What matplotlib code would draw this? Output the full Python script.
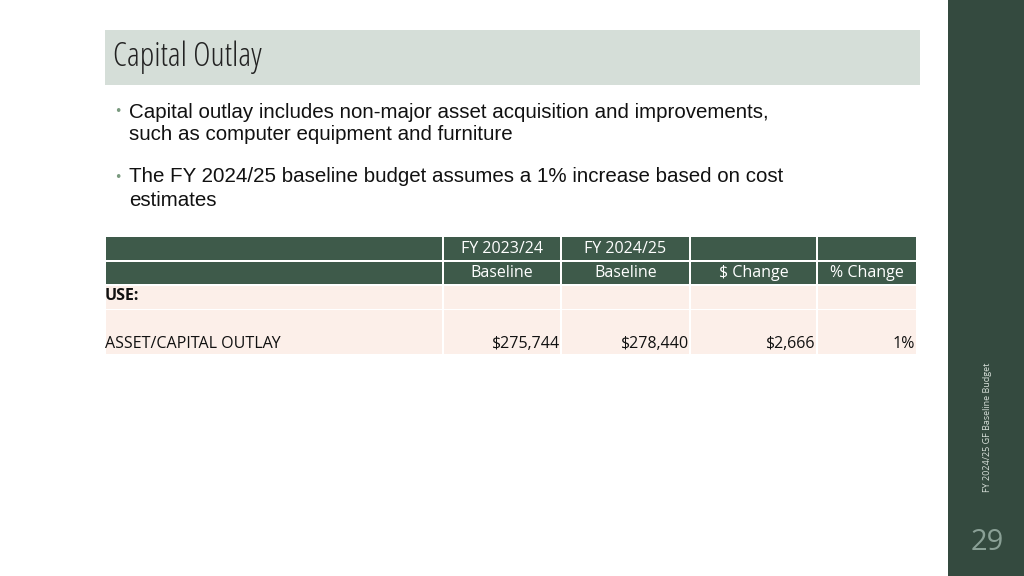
import matplotlib.pyplot as plt
from matplotlib.patches import Rectangle

W, H = 1024, 576

title = "Capital Outlay"
bullets = [
    ["Capital outlay includes non-major asset acquisition and improvements,",
     "such as computer equipment and furniture"],
    ["The FY 2024/25 baseline budget assumes a 1% increase based on cost",
     "estimates"],
]
header_top = ["", "FY 2023/24", "FY 2024/25", "", ""]
header_bot = ["", "Baseline", "Baseline", "$ Change", "% Change"]
row_label = "ASSET/CAPITAL OUTLAY"
row_values = ["$275,744", "$278,440", "$2,666", "1%"]
side_text = "FY 2024/25 GF Baseline Budget"
page_no = "29"

col_edges = [105, 443, 561, 690, 817, 917]
dark = "#3e5a4a"
body = "#fcefe9"

fig = plt.figure(figsize=(W / 100, H / 100), dpi=100)
ax = fig.add_axes([0, 0, 1, 1])
ax.set_xlim(0, W)
ax.set_ylim(H, 0)
ax.axis("off")


def rect(x0, y0, x1, y1, color):
    ax.add_patch(Rectangle((x0, y0), x1 - x0, y1 - y0, facecolor=color, edgecolor="none"))


# sidebar
rect(948, 0, W, H, "#344a3f")
ax.text(987, 427, side_text, rotation=90, ha="center", va="center", fontsize=6.5,
        color="#d8e0da", family="Open Sans")
ax.text(987, 542, page_no, ha="center", va="center", fontsize=21, color="#8aa096",
        family="Open Sans")

# title bar
rect(105, 30, 920, 85, "#d5ded8")
ax.text(113, 57, title, ha="left", va="center", fontsize=24, color="#222222",
        family="Open Sans", fontstretch="condensed")

# bullets
y = 112
for lines in bullets:
    ax.text(114, y, "•", ha="left", va="center", fontsize=9, color="#7a9a7f")
    for ln in lines:
        ax.text(129, y, ln, ha="left", va="center", fontsize=14.8, color="#111111",
                family="Liberation Sans")
        y += 23
    y += 19

# table header
fs = 11.5
for i in range(len(col_edges) - 1):
    x0, x1 = col_edges[i] + 1, col_edges[i + 1] - 1
    rect(x0, 237, x1, 260, dark)
    rect(x0, 262, x1, 284, dark)
    rect(x0, 286, x1, 309, body)
    rect(x0, 310, x1, 354, body)
    xc = (col_edges[i] + col_edges[i + 1]) / 2
    ax.text(xc, 249, header_top[i], ha="center", va="center", fontsize=fs,
            color="white", family="Open Sans")
    ax.text(xc, 273, header_bot[i], ha="center", va="center", fontsize=fs,
            color="white", family="Open Sans")

ax.text(105, 296, "USE:", ha="left", va="center", fontsize=fs, fontweight="bold",
        color="#111111", family="Open Sans")
ax.text(105, 344, row_label, ha="left", va="center", fontsize=fs, color="#111111",
        family="Open Sans")
for i, v in enumerate(row_values):
    ax.text(col_edges[i + 2] - 2, 344, v, ha="right", va="center", fontsize=fs,
            color="#111111", family="Open Sans")

fig.savefig("out.png", dpi=100)
